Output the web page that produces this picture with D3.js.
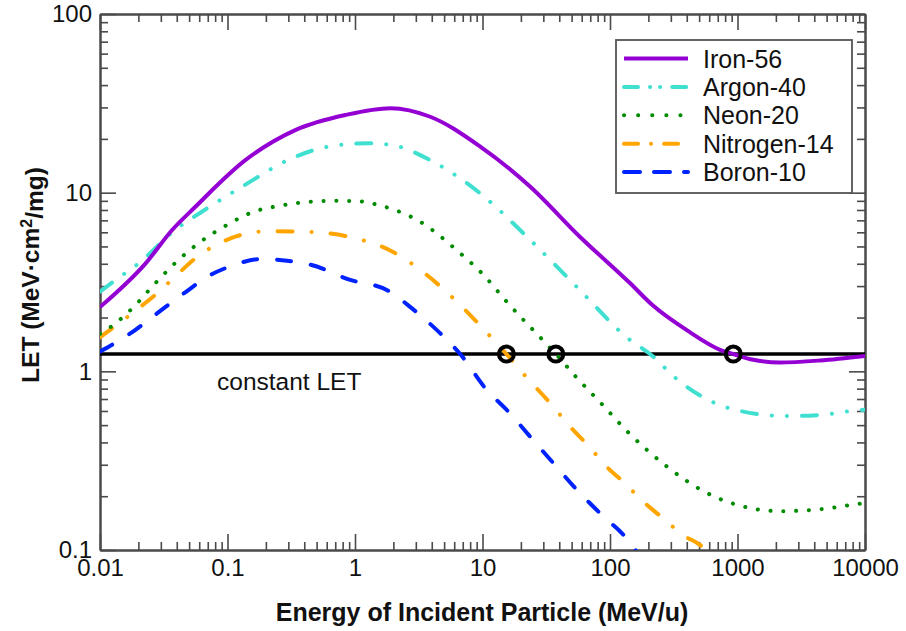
<!DOCTYPE html>
<html>
<head>
<meta charset="utf-8">
<script src="https://cdn.jsdelivr.net/npm/d3@7"></script>
<style>
  html, body { margin: 0; padding: 0; background: #fff; }
  svg { display: block; font-family: "Liberation Sans", Arial, Helvetica, sans-serif; }
</style>
</head>
<body>
<svg id="chart" width="906" height="631"></svg>
<script>
// Energy (MeV/u) and LET (MeV·cm²/mg) for each ion
const ironE    = [0.01, 0.0228, 0.0368, 0.056, 0.138, 0.34, 0.84, 1.9, 3.89, 9.6, 23.7, 58, 144, 215, 400, 730, 927, 1330, 2150, 4430, 10000];
const ironLET  = [2.29, 4.02, 6.18, 8.34, 15.2, 22.4, 27.2, 29.7, 26.6, 18.1, 10.8, 5.67, 3.11, 2.35, 1.70, 1.32, 1.25, 1.16, 1.12, 1.15, 1.22];

const argonE   = [0.01, 0.0132, 0.0201, 0.039, 0.063, 0.130, 0.321, 0.62, 1.28, 2.07, 3.89, 9.6, 23.7, 58, 140, 206, 354, 873, 2430, 4430, 9120, 10000];
const argonLET = [2.79, 3.24, 4.02, 6.2, 7.82, 10.8, 15.6, 18.1, 18.9, 18.3, 15.2, 9.9, 5.43, 2.85, 1.52, 1.25, 0.875, 0.62, 0.562, 0.57, 0.607, 0.61];

const neonE    = [0.01, 0.0125, 0.019, 0.0249, 0.039, 0.063, 0.099, 0.156, 0.252, 0.395, 0.64, 1.0, 1.6, 3.25, 6.48, 10.2, 15.5, 30.1, 37.6, 56.5, 87.7, 135, 270, 557, 1080, 2150, 4430, 8850, 10000];
const neonLET  = [1.62, 1.80, 2.35, 2.91, 4.05, 5.38, 6.59, 7.77, 8.43, 8.83, 9.0, 8.98, 8.45, 6.87, 4.67, 3.46, 2.45, 1.48, 1.25, 0.90, 0.648, 0.465, 0.299, 0.211, 0.176, 0.165, 0.169, 0.181, 0.183];

const nitroE   = [0.01, 0.014, 0.02, 0.028, 0.040, 0.056, 0.115, 0.21, 0.433, 0.89, 1.92, 3.66, 6.9, 10.2, 15.4, 19.2, 25.9, 36, 48.6, 67.7, 94.4, 131, 183, 262, 376, 524, 650];
const nitroLET = [1.55, 1.85, 2.25, 2.73, 3.46, 4.29, 5.67, 6.09, 6.04, 5.67, 4.72, 3.46, 2.3, 1.72, 1.25, 1.04, 0.82, 0.634, 0.49, 0.383, 0.292, 0.236, 0.186, 0.150, 0.121, 0.105, 0.09];

const boronE   = [0.01, 0.0173, 0.028, 0.0454, 0.0735, 0.112, 0.181, 0.293, 0.45, 0.89, 1.83, 2.8, 4.67, 6.68, 10.8, 16.0, 23.7, 36, 55, 86.3, 135, 170];
const boronLET = [1.29, 1.63, 2.11, 2.73, 3.46, 3.93, 4.25, 4.16, 3.95, 3.27, 2.82, 2.25, 1.63, 1.25, 0.786, 0.594, 0.43, 0.306, 0.217, 0.157, 0.116, 0.093];

const seriesNames = ["Iron-56", "Argon-40", "Neon-20", "Nitrogen-14", "Boron-10"];

// Threshold LET and the energies where ions cross it
const constantLET = 1.25;
const crossingE = [15.4, 37.6, 927];

// Axis ticks
const xMajor = [0.01, 0.1, 1, 10, 100, 1000, 10000];
const xMajorLabels = ["0.01", "0.1", "1", "10", "100", "1000", "10000"];
const yMajor = [0.1, 1, 10, 100];
const yMajorLabels = ["0.1", "1", "10", "100"];

const svg = d3.select("#chart");
const m = { left: 100, top: 14, right: 41, bottom: 81 };
const W = 906 - m.left - m.right;
const H = 631 - m.top - m.bottom;

const x = d3.scaleLog().domain([0.01, 10000]).range([0, W]);
const y = d3.scaleLog().domain([0.1, 100]).range([H, 0]);

const g = svg.append("g").attr("transform", `translate(${m.left},${m.top})`);

function minorsOf(majors) {
  const out = [];
  for (let i = 0; i < majors.length - 1; i++)
    for (let k = 2; k <= 9; k++) out.push(majors[i] * k);
  return out;
}
const xMinor = minorsOf(xMajor);
const yMinor = minorsOf(yMajor);

g.append("defs").append("clipPath").attr("id", "plotClip")
  .append("rect").attr("x", 0).attr("y", 0).attr("width", W).attr("height", H);

const axisColor = "#4a4a4a";
function styleAxis(sel) {
  sel.selectAll(".domain").attr("stroke", axisColor).attr("stroke-width", 2);
  sel.selectAll(".tick line").attr("stroke", axisColor).attr("stroke-width", 1.6);
  sel.selectAll(".tick text").attr("fill", "#111").style("font-size", "24px")
    .style("font-family", '"Liberation Sans", Arial, sans-serif');
}

// Bottom axis with labels
g.append("g").attr("transform", `translate(0,${H})`)
  .call(d3.axisBottom(x).tickValues(xMinor).tickSize(-8).tickSizeOuter(0).tickFormat(""))
  .call(styleAxis);
g.append("g").attr("transform", `translate(0,${H})`)
  .call(d3.axisBottom(x).tickValues(xMajor).tickSize(-16).tickSizeOuter(0).tickPadding(9)
    .tickFormat((d, i) => xMajorLabels[i]))
  .call(styleAxis);
// Top axis, ticks only
g.append("g")
  .call(d3.axisTop(x).tickValues(xMinor).tickSize(-8).tickSizeOuter(0).tickFormat(""))
  .call(styleAxis);
g.append("g")
  .call(d3.axisTop(x).tickValues(xMajor).tickSize(-16).tickSizeOuter(0).tickFormat(""))
  .call(styleAxis);
// Left axis with labels
g.append("g")
  .call(d3.axisLeft(y).tickValues(yMinor).tickSize(-8).tickSizeOuter(0).tickFormat(""))
  .call(styleAxis);
g.append("g")
  .call(d3.axisLeft(y).tickValues(yMajor).tickSize(-16).tickSizeOuter(0).tickPadding(8)
    .tickFormat((d, i) => yMajorLabels[i]))
  .call(styleAxis);
// Right axis, ticks only
g.append("g").attr("transform", `translate(${W},0)`)
  .call(d3.axisRight(y).tickValues(yMinor).tickSize(-8).tickSizeOuter(0).tickFormat(""))
  .call(styleAxis);
g.append("g").attr("transform", `translate(${W},0)`)
  .call(d3.axisRight(y).tickValues(yMajor).tickSize(-16).tickSizeOuter(0).tickFormat(""))
  .call(styleAxis);

// Curves
const series = [
  { name: seriesNames[0], E: ironE,  L: ironLET,  color: "#9400d3", dash: null,                  legendDash: null },
  { name: seriesNames[1], E: argonE, L: argonLET, color: "#40e0d0", dash: "15,15,0.1,15,0.1,15", legendDash: "14,12,0.1,10,0.1,12" },
  { name: seriesNames[2], E: neonE,  L: neonLET,  color: "#008b00", dash: "0.1,12.7",            legendDash: "0.1,14" },
  { name: seriesNames[3], E: nitroE, L: nitroLET, color: "#ffa500", dash: "15,19,0.1,19",        legendDash: "14,13,0.1,13" },
  { name: seriesNames[4], E: boronE, L: boronLET, color: "#0022ff", dash: "14,20",               legendDash: "16,14" }
];

const line = d3.line()
  .x(d => x(d[0]))
  .y(d => y(d[1]))
  .curve(d3.curveMonotoneX);

const curves = g.append("g").attr("clip-path", "url(#plotClip)");

// Constant LET line
curves.append("line")
  .attr("x1", x(0.01)).attr("x2", x(10000))
  .attr("y1", y(constantLET)).attr("y2", y(constantLET))
  .attr("stroke", "#000").attr("stroke-width", 3.5);

series.slice().reverse().forEach(s => {
  curves.append("path")
    .datum(s.E.map((e, i) => [e, s.L[i]]))
    .attr("d", line)
    .attr("fill", "none")
    .attr("stroke", s.color)
    .attr("stroke-width", 4)
    .attr("stroke-linecap", s.dash ? "round" : "butt")
    .attr("stroke-dasharray", s.dash);
});

// Crossing markers
g.selectAll("circle.cross").data(crossingE).enter().append("circle")
  .attr("class", "cross")
  .attr("cx", d => x(d)).attr("cy", y(constantLET)).attr("r", 7.5)
  .attr("fill", "none").attr("stroke", "#000").attr("stroke-width", 4);

g.append("text")
  .attr("x", 117).attr("y", 376)
  .style("font-size", "24.5px").attr("fill", "#111")
  .text("constant LET");

// Legend
const lg = svg.append("g").attr("transform", "translate(616,40)");
lg.append("rect").attr("width", 236).attr("height", 153)
  .attr("fill", "#fff").attr("stroke", "#555").attr("stroke-width", 1.8);
series.forEach((s, i) => {
  const yy = 18.5 + i * 28.4;
  lg.append("line").attr("x1", 8).attr("x2", 72).attr("y1", yy).attr("y2", yy)
    .attr("stroke", s.color).attr("stroke-width", 4)
    .attr("stroke-linecap", s.legendDash ? "round" : "butt")
    .attr("stroke-dasharray", s.legendDash);
  lg.append("text").attr("x", 87).attr("y", yy).attr("dy", "0.36em")
    .style("font-size", "25px").attr("fill", "#111").text(s.name);
});

// Axis titles
svg.append("text")
  .attr("x", 482).attr("y", 621)
  .attr("text-anchor", "middle")
  .style("font-size", "25px").style("font-weight", "bold").attr("fill", "#111")
  .text("Energy of Incident Particle (MeV/u)");

const yt = svg.append("text")
  .attr("transform", "translate(39,275) rotate(-90)")
  .attr("text-anchor", "middle")
  .style("font-size", "24.5px").style("font-weight", "bold").attr("fill", "#111");
yt.append("tspan").text("LET (MeV·cm");
yt.append("tspan").attr("dy", "-0.45em").style("font-size", "16px").text("2");
yt.append("tspan").attr("dy", "0.45em").text("/mg)");
</script>
</body>
</html>
